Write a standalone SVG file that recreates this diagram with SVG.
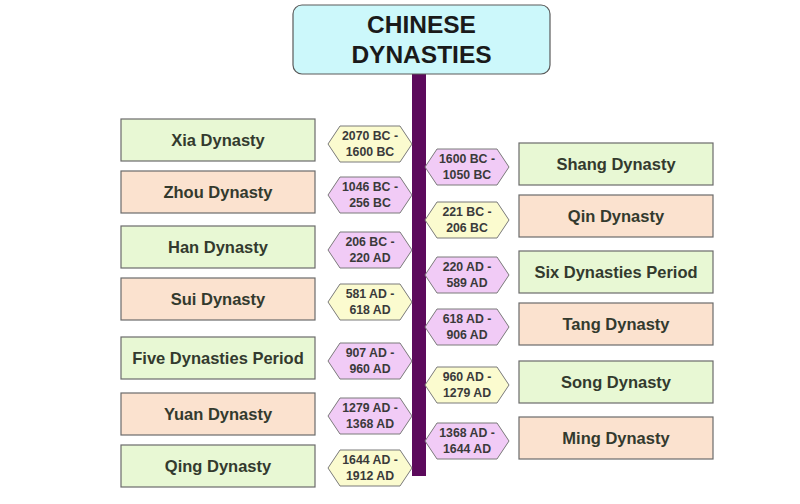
<svg xmlns="http://www.w3.org/2000/svg" width="800" height="504" viewBox="0 0 800 504">
<defs>
<style>
.box{stroke:#6b6b6b;stroke-width:1.2}
.g{fill:#e8f8d4}
.p{fill:#fbe2cf}
.hy{fill:#fbfbcf;stroke:#7a7a7a;stroke-width:1}
.hp{fill:#f1cbf6;stroke:#7a7a7a;stroke-width:1}
.lbl{font-family:"Liberation Sans",Arial,sans-serif;font-weight:bold;font-size:16.5px;fill:#333a2e;text-anchor:middle;dominant-baseline:central}
.dt{font-family:"Liberation Sans",Arial,sans-serif;font-weight:bold;font-size:12.3px;fill:#3a3a3a;text-anchor:middle}
.ttl{font-family:"Liberation Sans",Arial,sans-serif;font-weight:bold;font-size:24.5px;fill:#1a1a1a;text-anchor:middle}
</style>
<polygon id="hex" points="-42,0 -30,-18 30,-18 42,0 30,18 -30,18"/>
</defs>
<rect width="800" height="504" fill="#ffffff"/>
<g id="connectors">
<rect x="412" y="72" width="14" height="404" fill="#5c0a5c"/>
</g>
<g id="title">
<rect x="293" y="5" width="257" height="69" rx="9" fill="#ccf8fb" stroke="#5a5a5a" stroke-width="1.2"/>
<text class="ttl" x="421.5" y="33">CHINESE</text>
<text class="ttl" x="421.5" y="63">DYNASTIES</text>
</g>
<g id="xia"><rect class="box g" x="121" y="119" width="194" height="42"/><text class="lbl" x="218" y="140">Xia Dynasty</text></g>
<g id="zhou"><rect class="box p" x="121" y="171" width="194" height="42"/><text class="lbl" x="218" y="192">Zhou Dynasty</text></g>
<g id="han"><rect class="box g" x="121" y="226" width="194" height="42"/><text class="lbl" x="218" y="247">Han Dynasty</text></g>
<g id="sui"><rect class="box p" x="121" y="278" width="194" height="42"/><text class="lbl" x="218" y="299">Sui Dynasty</text></g>
<g id="five"><rect class="box g" x="121" y="337" width="194" height="42"/><text class="lbl" x="218" y="358">Five Dynasties Period</text></g>
<g id="yuan"><rect class="box p" x="121" y="393" width="194" height="42"/><text class="lbl" x="218" y="414">Yuan Dynasty</text></g>
<g id="qing"><rect class="box g" x="121" y="445" width="194" height="42"/><text class="lbl" x="218" y="466">Qing Dynasty</text></g>
<g id="shang"><rect class="box g" x="519" y="143" width="194" height="42"/><text class="lbl" x="616" y="164">Shang Dynasty</text></g>
<g id="qin"><rect class="box p" x="519" y="195" width="194" height="42"/><text class="lbl" x="616" y="216">Qin Dynasty</text></g>
<g id="six"><rect class="box g" x="519" y="251" width="194" height="42"/><text class="lbl" x="616" y="272">Six Dynasties Period</text></g>
<g id="tang"><rect class="box p" x="519" y="303" width="194" height="42"/><text class="lbl" x="616" y="324">Tang Dynasty</text></g>
<g id="song"><rect class="box g" x="519" y="361" width="194" height="42"/><text class="lbl" x="616" y="382">Song Dynasty</text></g>
<g id="ming"><rect class="box p" x="519" y="417" width="194" height="42"/><text class="lbl" x="616" y="438">Ming Dynasty</text></g>
<g id="d-xia"><use href="#hex" class="hy" x="370" y="144"/><text class="dt" x="370" y="140">2070 BC -</text><text class="dt" x="370" y="156">1600 BC</text></g>
<g id="d-zhou"><use href="#hex" class="hp" x="370" y="195"/><text class="dt" x="370" y="191">1046 BC -</text><text class="dt" x="370" y="207">256 BC</text></g>
<g id="d-han"><use href="#hex" class="hp" x="370" y="250"/><text class="dt" x="370" y="246">206 BC -</text><text class="dt" x="370" y="262">220 AD</text></g>
<g id="d-sui"><use href="#hex" class="hy" x="370" y="302"/><text class="dt" x="370" y="298">581 AD -</text><text class="dt" x="370" y="314">618 AD</text></g>
<g id="d-five"><use href="#hex" class="hp" x="370" y="361"/><text class="dt" x="370" y="357">907 AD -</text><text class="dt" x="370" y="373">960 AD</text></g>
<g id="d-yuan"><use href="#hex" class="hp" x="370" y="416"/><text class="dt" x="370" y="412">1279 AD -</text><text class="dt" x="370" y="428">1368 AD</text></g>
<g id="d-qing"><use href="#hex" class="hy" x="370" y="468"/><text class="dt" x="370" y="464">1644 AD -</text><text class="dt" x="370" y="480">1912 AD</text></g>
<g id="d-shang"><use href="#hex" class="hp" x="467" y="167"/><text class="dt" x="467" y="163">1600 BC -</text><text class="dt" x="467" y="179">1050 BC</text></g>
<g id="d-qin"><use href="#hex" class="hy" x="467" y="220"/><text class="dt" x="467" y="216">221 BC -</text><text class="dt" x="467" y="232">206 BC</text></g>
<g id="d-six"><use href="#hex" class="hp" x="467" y="275"/><text class="dt" x="467" y="271">220 AD -</text><text class="dt" x="467" y="287">589 AD</text></g>
<g id="d-tang"><use href="#hex" class="hp" x="467" y="327"/><text class="dt" x="467" y="323">618 AD -</text><text class="dt" x="467" y="339">906 AD</text></g>
<g id="d-song"><use href="#hex" class="hy" x="467" y="385"/><text class="dt" x="467" y="381">960 AD -</text><text class="dt" x="467" y="397">1279 AD</text></g>
<g id="d-ming"><use href="#hex" class="hp" x="467" y="441"/><text class="dt" x="467" y="437">1368 AD -</text><text class="dt" x="467" y="453">1644 AD</text></g>
</svg>
